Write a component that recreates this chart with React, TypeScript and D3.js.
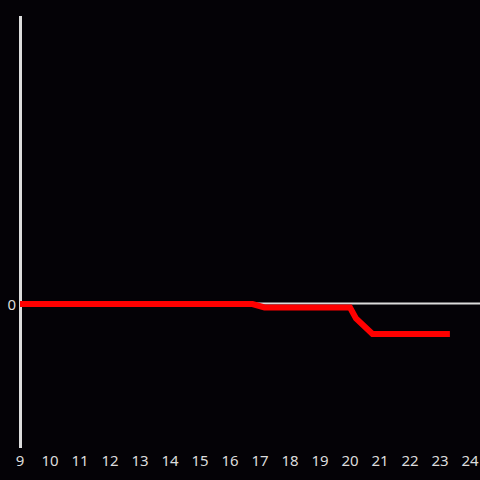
import React from "react";
import * as d3 from "d3";

const hours = [9, 16.75, 17.15, 20, 20.2, 20.75, 23.33];
const values = [0, 0, -0.12, -0.12, -0.5, -1.04, -1.04];
const xTicks = [9, 10, 11, 12, 13, 14, 15, 16, 17, 18, 19, 20, 21, 22, 23, 24];
const yTicks = [0];

export default function App() {
  const W = 480, H = 480;
  const x = d3.scaleLinear().domain([9, 24]).range([20, 470]);
  const y = d3.scaleLinear().domain([-5, 10]).range([448, 16]);
  const data = hours.map((h, i) => ({ h, v: values[i] }));
  const line = d3.line<{ h: number; v: number }>().x(d => x(d.h)).y(d => y(d.v));
  const fg = "#dcdcdc";
  return (
    <svg width={W} height={H} style={{ position: "absolute", left: 0, top: 0, background: "#040206" }}
      fontFamily="'Noto Sans', sans-serif">
      <rect width={W} height={H} fill="#040206" />
      <line x1={20} x2={480} y1={y(0) - 0.5} y2={y(0) - 0.5} stroke={fg} strokeWidth={2} />
      <line x1={20.5} x2={20.5} y1={16} y2={448} stroke={fg} strokeWidth={3} />
      {yTicks.map(t => (
        <text key={t} x={16} y={y(t) + 1} dy="0.35em" textAnchor="end" fill={fg} fontSize={15}>{t}</text>
      ))}
      {xTicks.map(t => (
        <text key={t} x={x(t)} y={466} textAnchor="middle" fill={fg} fontSize={15}>{t}</text>
      ))}
      <path d={line(data) || ""} fill="none" stroke="#ff0000" strokeWidth={6} />
    </svg>
  );
}
